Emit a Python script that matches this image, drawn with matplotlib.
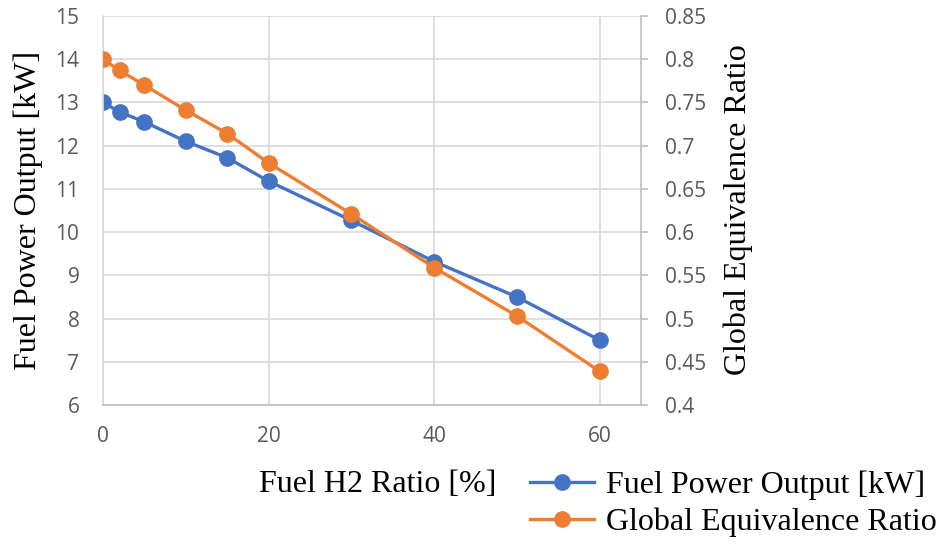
import matplotlib.pyplot as plt
import numpy as np

h2_ratio = [0, 2, 5, 10, 15, 20, 30, 40, 50, 60]
power_kw = [13.0, 12.78, 12.55, 12.1, 11.72, 11.18, 10.27, 9.32, 8.5, 7.5]
equiv_ratio = [0.80, 0.787, 0.770, 0.741, 0.714, 0.680, 0.621, 0.559, 0.503, 0.439]
right_labels = ['0.4', '0.45', '0.5', '0.55', '0.6', '0.65', '0.7', '0.75', '0.8', '0.85']

blue = '#4472C4'
orange = '#ED7D31'
grid_c = '#D9D9D9'
tick_c = '#595959'

fig = plt.figure(figsize=(9.45, 5.45), dpi=100)
ax = fig.add_axes([103/945, 1-405/545, 538/945, 389/545])
ax2 = ax.twinx()

ax.plot(h2_ratio, power_kw, color=blue, lw=2.4, marker='o', ms=11, label='Fuel Power Output [kW]')
ax2.plot(h2_ratio, equiv_ratio, color=orange, lw=2.4, marker='o', ms=11, label='Global Equivalence Ratio')

ax.set_xlim(0, 65)
ax.set_ylim(6, 15)
ax2.set_ylim(0.4, 0.85)
ax.set_xticks([0, 20, 40, 60])
ax.set_yticks(np.arange(6, 16, 1))
ax2.set_yticks(np.arange(0.4, 0.851, 0.05))
ax2.set_yticklabels(right_labels)

ax.grid(True, color=grid_c, lw=1.2)
ax.set_axisbelow(True)
for a in (ax, ax2):
    for s in a.spines.values():
        s.set_visible(False)
ax.spines['bottom'].set_visible(True)
ax.spines['bottom'].set_color('#BFBFBF')
ax.spines['bottom'].set_linewidth(1.2)
ax.spines['left'].set_visible(True)
ax.spines['left'].set_color(grid_c)
ax.spines['left'].set_linewidth(1.2)
ax2.spines['right'].set_visible(True)
ax2.spines['right'].set_color('#BFBFBF')
ax2.spines['right'].set_linewidth(1.2)

ax.tick_params(axis='x', length=0, colors=tick_c, pad=15)
ax.tick_params(axis='y', length=0, colors=tick_c, pad=17)
ax2.tick_params(axis='y', length=5, width=1.2, color='#BFBFBF', labelcolor=tick_c, pad=12)
for lab in ax.get_xticklabels() + ax.get_yticklabels() + ax2.get_yticklabels():
    lab.set_fontfamily('Open Sans')
    lab.set_fontsize(15)

serif = 'Liberation Serif'
fig.text(28/945, 1-210/545, 'Fuel Power Output [kW]', rotation=90, ha='center', va='center',
         family=serif, fontsize=23)
fig.text(738/945, 1-210/545, 'Global Equivalence Ratio', rotation=90, ha='center', va='center',
         family=serif, fontsize=23)
fig.text(378/945, 1-485/545, 'Fuel H2 Ratio [%]', ha='center', va='center', family=serif, fontsize=23)

h1, l1 = ax.get_legend_handles_labels()
h2, l2 = ax2.get_legend_handles_labels()
fig.legend(h1 + h2, l1 + l2, loc='center left', bbox_to_anchor=(517/945, 1-504/545),
           frameon=False, prop={'family': serif, 'size': 23}, handlelength=2.0,
           handletextpad=0.4, labelspacing=0.22, borderaxespad=0)

fig.savefig('out.png', dpi=100)
